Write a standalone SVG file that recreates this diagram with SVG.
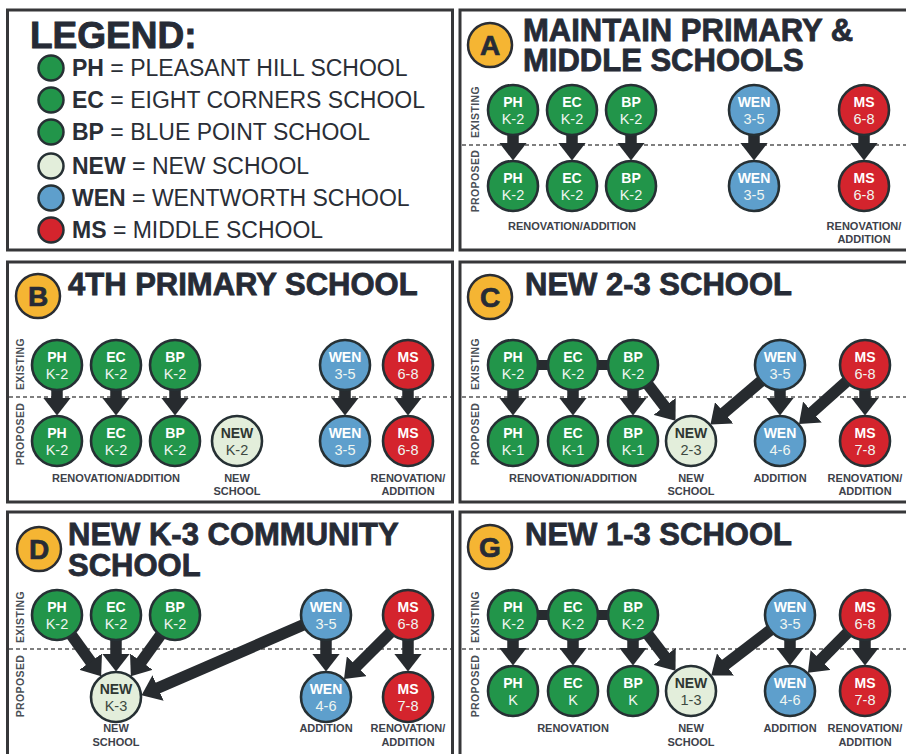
<svg xmlns="http://www.w3.org/2000/svg" width="906" height="754" viewBox="0 0 906 754">
<defs>
<marker id="ah" markerUnits="userSpaceOnUse" markerWidth="18" markerHeight="28" viewBox="0 0 18 28" refX="1.5" refY="14" orient="auto"><path d="M0,0 L18,14 L0,28 z" fill="#272b2f"/></marker>
<style>
text{font-family:"Liberation Sans",Arial,sans-serif}
.panel{fill:#fff;stroke:#363739;stroke-width:3}
.title{font-weight:bold;font-size:31px;fill:#262b36;stroke:#262b36;stroke-width:0.8}
.badge circle{fill:#f5b533;stroke:#2a2d33;stroke-width:2.5}
.badge text{font-weight:bold;font-size:28px;fill:#262b36;text-anchor:middle;stroke:#262b36;stroke-width:0.7}
.node circle{stroke:#263034;stroke-width:2.6}
.g circle{fill:#22954a}.b circle{fill:#5e9fcc}.r circle{fill:#d4242d}.n circle{fill:#e3eedb}
.node text{text-anchor:middle}
.t1{font-weight:bold;font-size:14px;fill:#fff}
.t2{font-size:14.5px;fill:#f0f6f1}
.n .t1{fill:#2e3732}.n .t2{fill:#3c4840}
.lbl{font-weight:bold;font-size:11px;fill:#3d424a;text-anchor:middle}
.side{font-weight:bold;font-size:10.5px;fill:#4a4f56;text-anchor:middle;letter-spacing:0.4px}
.dash{stroke:#555;stroke-width:1.3;stroke-dasharray:4 3}
.conn line{stroke:#272b2f;stroke-width:11.5;marker-end:url(#ah)}
.conn line.bar{marker-end:none;stroke-width:10}
.leg{font-size:23px;fill:#2a2e36}
.legc{stroke:#263034;stroke-width:2.5}
</style>
</defs>

<!-- Panels -->
<g id="panels">
<rect class="panel" x="7.5" y="10" width="445" height="240"/>
<rect class="panel" x="460" y="10" width="448" height="240"/>
<rect class="panel" x="7.5" y="262" width="445" height="240"/>
<rect class="panel" x="460" y="262" width="448" height="240"/>
<rect class="panel" x="7.5" y="512" width="445" height="250"/>
<rect class="panel" x="460" y="512" width="448" height="250"/>
</g>

<!-- Legend -->
<g id="legend">
<text x="30" y="48" style="font-weight:bold;font-size:37px;fill:#262b36;stroke:#262b36;stroke-width:0.9">LEGEND:</text>
<circle class="legc" cx="51" cy="68" r="12.5" fill="#22954a"/>
<text class="leg" x="72" y="76"><tspan font-weight="bold">PH</tspan> = PLEASANT HILL SCHOOL</text>
<circle class="legc" cx="51" cy="100" r="12.5" fill="#22954a"/>
<text class="leg" x="72" y="108"><tspan font-weight="bold">EC</tspan> = EIGHT CORNERS SCHOOL</text>
<circle class="legc" cx="51" cy="132" r="12.5" fill="#22954a"/>
<text class="leg" x="72" y="140"><tspan font-weight="bold">BP</tspan> = BLUE POINT SCHOOL</text>
<circle class="legc" cx="51" cy="166" r="12.5" fill="#e3eedb"/>
<text class="leg" x="72" y="174"><tspan font-weight="bold">NEW</tspan> = NEW SCHOOL</text>
<circle class="legc" cx="51" cy="198" r="12.5" fill="#5e9fcc"/>
<text class="leg" x="72" y="206"><tspan font-weight="bold">WEN</tspan> = WENTWORTH SCHOOL</text>
<circle class="legc" cx="51" cy="230" r="12.5" fill="#d4242d"/>
<text class="leg" x="72" y="238"><tspan font-weight="bold">MS</tspan> = MIDDLE SCHOOL</text>
</g>

<!-- Headings, dividers, side labels -->
<g id="headings">
<g class="badge"><circle cx="490" cy="45" r="22"/><text x="490" y="55">A</text></g>
<text class="title" x="523" y="41">MAINTAIN PRIMARY &amp;</text>
<text class="title" x="523" y="71">MIDDLE SCHOOLS</text>
<g class="badge"><circle cx="38" cy="296" r="22"/><text x="38" y="306">B</text></g>
<text class="title" x="68" y="295">4TH PRIMARY SCHOOL</text>
<g class="badge"><circle cx="490" cy="297" r="22"/><text x="490" y="307">C</text></g>
<text class="title" x="525" y="295">NEW 2-3 SCHOOL</text>
<g class="badge"><circle cx="39" cy="549" r="22"/><text x="39" y="559">D</text></g>
<text class="title" x="68" y="545">NEW K-3 COMMUNITY</text>
<text class="title" x="68" y="576">SCHOOL</text>
<g class="badge"><circle cx="490" cy="547" r="22"/><text x="490" y="557">G</text></g>
<text class="title" x="525" y="545">NEW 1-3 SCHOOL</text>

<line class="dash" x1="462" y1="145" x2="906" y2="145"/>
<line class="dash" x1="9" y1="397" x2="451" y2="397"/>
<line class="dash" x1="462" y1="397" x2="906" y2="397"/>
<line class="dash" x1="9" y1="649" x2="451" y2="649"/>
<line class="dash" x1="462" y1="649" x2="906" y2="649"/>

<text class="side" transform="translate(479,112) rotate(-90)">EXISTING</text>
<text class="side" transform="translate(479,181) rotate(-90)">PROPOSED</text>
<text class="side" transform="translate(24,364) rotate(-90)">EXISTING</text>
<text class="side" transform="translate(24,434) rotate(-90)">PROPOSED</text>
<text class="side" transform="translate(479,364) rotate(-90)">EXISTING</text>
<text class="side" transform="translate(479,434) rotate(-90)">PROPOSED</text>
<text class="side" transform="translate(24,617) rotate(-90)">EXISTING</text>
<text class="side" transform="translate(24,686) rotate(-90)">PROPOSED</text>
<text class="side" transform="translate(479,617) rotate(-90)">EXISTING</text>
<text class="side" transform="translate(479,686) rotate(-90)">PROPOSED</text>
</g>

<!-- Connectors -->
<g id="connectors" class="conn">
<!-- A -->
<line x1="513" y1="110" x2="513" y2="144"/>
<line x1="572" y1="110" x2="572" y2="144"/>
<line x1="631" y1="110" x2="631" y2="144"/>
<line x1="754" y1="110" x2="754" y2="144"/>
<line x1="864" y1="110" x2="864" y2="144"/>
<!-- B -->
<line x1="57" y1="365" x2="57" y2="399"/>
<line x1="116" y1="365" x2="116" y2="399"/>
<line x1="175" y1="365" x2="175" y2="399"/>
<line x1="345" y1="365" x2="345" y2="399"/>
<line x1="408" y1="365" x2="408" y2="399"/>
<!-- C -->
<line class="bar" x1="513" y1="365" x2="633" y2="365"/>
<line x1="513" y1="365" x2="513" y2="399"/>
<line x1="573" y1="365" x2="573" y2="399"/>
<line x1="633" y1="365" x2="633" y2="399"/>
<line x1="633" y1="365" x2="665.5" y2="407.6"/>
<line x1="780" y1="365" x2="723" y2="413.7"/>
<line x1="780" y1="365" x2="780" y2="399"/>
<line x1="865" y1="365" x2="811.3" y2="413"/>
<line x1="865" y1="365" x2="865" y2="399"/>
<!-- D -->
<line x1="57" y1="615" x2="91.5" y2="662.9"/>
<line x1="116" y1="615" x2="116" y2="655"/>
<line x1="175" y1="615" x2="140.5" y2="662.9"/>
<line x1="326" y1="615" x2="156.7" y2="688.6"/>
<line x1="326" y1="615" x2="326" y2="655"/>
<line x1="408" y1="615" x2="355.7" y2="667.3"/>
<line x1="408" y1="615" x2="408" y2="655"/>
<!-- G -->
<line class="bar" x1="513" y1="615" x2="633" y2="615"/>
<line x1="513" y1="615" x2="513" y2="649"/>
<line x1="573" y1="615" x2="573" y2="649"/>
<line x1="633" y1="615" x2="633" y2="649"/>
<line x1="633" y1="615" x2="665.5" y2="657.6"/>
<line x1="790" y1="615" x2="724.3" y2="665.4"/>
<line x1="790" y1="615" x2="790" y2="649"/>
<line x1="865" y1="615" x2="819.5" y2="661.1"/>
<line x1="865" y1="615" x2="865" y2="649"/>
</g>

<!-- Nodes: Panel A -->
<g id="a-ph-e" class="node g"><circle cx="513" cy="110" r="25"/><text class="t1" x="513" y="107">PH</text><text class="t2" x="513" y="124">K-2</text></g>
<g id="a-ec-e" class="node g"><circle cx="572" cy="110" r="25"/><text class="t1" x="572" y="107">EC</text><text class="t2" x="572" y="124">K-2</text></g>
<g id="a-bp-e" class="node g"><circle cx="631" cy="110" r="25"/><text class="t1" x="631" y="107">BP</text><text class="t2" x="631" y="124">K-2</text></g>
<g id="a-wen-e" class="node b"><circle cx="754" cy="110" r="25"/><text class="t1" x="754" y="107">WEN</text><text class="t2" x="754" y="124">3-5</text></g>
<g id="a-ms-e" class="node r"><circle cx="864" cy="110" r="25"/><text class="t1" x="864" y="107">MS</text><text class="t2" x="864" y="124">6-8</text></g>
<g id="a-ph-p" class="node g"><circle cx="513" cy="186" r="25"/><text class="t1" x="513" y="183">PH</text><text class="t2" x="513" y="200">K-2</text></g>
<g id="a-ec-p" class="node g"><circle cx="572" cy="186" r="25"/><text class="t1" x="572" y="183">EC</text><text class="t2" x="572" y="200">K-2</text></g>
<g id="a-bp-p" class="node g"><circle cx="631" cy="186" r="25"/><text class="t1" x="631" y="183">BP</text><text class="t2" x="631" y="200">K-2</text></g>
<g id="a-wen-p" class="node b"><circle cx="754" cy="186" r="25"/><text class="t1" x="754" y="183">WEN</text><text class="t2" x="754" y="200">3-5</text></g>
<g id="a-ms-p" class="node r"><circle cx="864" cy="186" r="25"/><text class="t1" x="864" y="183">MS</text><text class="t2" x="864" y="200">6-8</text></g>
<g id="a-labels"><text class="lbl" x="572" y="230">RENOVATION/ADDITION</text><text class="lbl" x="864" y="230">RENOVATION/</text><text class="lbl" x="864" y="243">ADDITION</text></g>

<!-- Panel B -->
<g id="b-ph-e" class="node g"><circle cx="57" cy="365" r="25"/><text class="t1" x="57" y="362">PH</text><text class="t2" x="57" y="379">K-2</text></g>
<g id="b-ec-e" class="node g"><circle cx="116" cy="365" r="25"/><text class="t1" x="116" y="362">EC</text><text class="t2" x="116" y="379">K-2</text></g>
<g id="b-bp-e" class="node g"><circle cx="175" cy="365" r="25"/><text class="t1" x="175" y="362">BP</text><text class="t2" x="175" y="379">K-2</text></g>
<g id="b-wen-e" class="node b"><circle cx="345" cy="365" r="25"/><text class="t1" x="345" y="362">WEN</text><text class="t2" x="345" y="379">3-5</text></g>
<g id="b-ms-e" class="node r"><circle cx="408" cy="365" r="25"/><text class="t1" x="408" y="362">MS</text><text class="t2" x="408" y="379">6-8</text></g>
<g id="b-ph-p" class="node g"><circle cx="57" cy="441" r="25"/><text class="t1" x="57" y="438">PH</text><text class="t2" x="57" y="455">K-2</text></g>
<g id="b-ec-p" class="node g"><circle cx="116" cy="441" r="25"/><text class="t1" x="116" y="438">EC</text><text class="t2" x="116" y="455">K-2</text></g>
<g id="b-bp-p" class="node g"><circle cx="175" cy="441" r="25"/><text class="t1" x="175" y="438">BP</text><text class="t2" x="175" y="455">K-2</text></g>
<g id="b-new-p" class="node n"><circle cx="237" cy="441" r="25"/><text class="t1" x="237" y="438">NEW</text><text class="t2" x="237" y="455">K-2</text></g>
<g id="b-wen-p" class="node b"><circle cx="345" cy="441" r="25"/><text class="t1" x="345" y="438">WEN</text><text class="t2" x="345" y="455">3-5</text></g>
<g id="b-ms-p" class="node r"><circle cx="408" cy="441" r="25"/><text class="t1" x="408" y="438">MS</text><text class="t2" x="408" y="455">6-8</text></g>
<g id="b-labels"><text class="lbl" x="116" y="482">RENOVATION/ADDITION</text><text class="lbl" x="237" y="482">NEW</text><text class="lbl" x="237" y="495">SCHOOL</text><text class="lbl" x="408" y="482">RENOVATION/</text><text class="lbl" x="408" y="495">ADDITION</text></g>

<!-- Panel C -->
<g id="c-ph-e" class="node g"><circle cx="513" cy="365" r="25"/><text class="t1" x="513" y="362">PH</text><text class="t2" x="513" y="379">K-2</text></g>
<g id="c-ec-e" class="node g"><circle cx="573" cy="365" r="25"/><text class="t1" x="573" y="362">EC</text><text class="t2" x="573" y="379">K-2</text></g>
<g id="c-bp-e" class="node g"><circle cx="633" cy="365" r="25"/><text class="t1" x="633" y="362">BP</text><text class="t2" x="633" y="379">K-2</text></g>
<g id="c-wen-e" class="node b"><circle cx="780" cy="365" r="25"/><text class="t1" x="780" y="362">WEN</text><text class="t2" x="780" y="379">3-5</text></g>
<g id="c-ms-e" class="node r"><circle cx="865" cy="365" r="25"/><text class="t1" x="865" y="362">MS</text><text class="t2" x="865" y="379">6-8</text></g>
<g id="c-ph-p" class="node g"><circle cx="513" cy="441" r="25"/><text class="t1" x="513" y="438">PH</text><text class="t2" x="513" y="455">K-1</text></g>
<g id="c-ec-p" class="node g"><circle cx="573" cy="441" r="25"/><text class="t1" x="573" y="438">EC</text><text class="t2" x="573" y="455">K-1</text></g>
<g id="c-bp-p" class="node g"><circle cx="633" cy="441" r="25"/><text class="t1" x="633" y="438">BP</text><text class="t2" x="633" y="455">K-1</text></g>
<g id="c-new-p" class="node n"><circle cx="691" cy="441" r="25"/><text class="t1" x="691" y="438">NEW</text><text class="t2" x="691" y="455">2-3</text></g>
<g id="c-wen-p" class="node b"><circle cx="780" cy="441" r="25"/><text class="t1" x="780" y="438">WEN</text><text class="t2" x="780" y="455">4-6</text></g>
<g id="c-ms-p" class="node r"><circle cx="865" cy="441" r="25"/><text class="t1" x="865" y="438">MS</text><text class="t2" x="865" y="455">7-8</text></g>
<g id="c-labels"><text class="lbl" x="573" y="482">RENOVATION/ADDITION</text><text class="lbl" x="691" y="482">NEW</text><text class="lbl" x="691" y="495">SCHOOL</text><text class="lbl" x="780" y="482">ADDITION</text><text class="lbl" x="865" y="482">RENOVATION/</text><text class="lbl" x="865" y="495">ADDITION</text></g>

<!-- Panel D -->
<g id="d-ph-e" class="node g"><circle cx="57" cy="615" r="25"/><text class="t1" x="57" y="612">PH</text><text class="t2" x="57" y="629">K-2</text></g>
<g id="d-ec-e" class="node g"><circle cx="116" cy="615" r="25"/><text class="t1" x="116" y="612">EC</text><text class="t2" x="116" y="629">K-2</text></g>
<g id="d-bp-e" class="node g"><circle cx="175" cy="615" r="25"/><text class="t1" x="175" y="612">BP</text><text class="t2" x="175" y="629">K-2</text></g>
<g id="d-wen-e" class="node b"><circle cx="326" cy="615" r="25"/><text class="t1" x="326" y="612">WEN</text><text class="t2" x="326" y="629">3-5</text></g>
<g id="d-ms-e" class="node r"><circle cx="408" cy="615" r="25"/><text class="t1" x="408" y="612">MS</text><text class="t2" x="408" y="629">6-8</text></g>
<g id="d-new-p" class="node n"><circle cx="116" cy="697" r="25"/><text class="t1" x="116" y="694">NEW</text><text class="t2" x="116" y="711">K-3</text></g>
<g id="d-wen-p" class="node b"><circle cx="326" cy="697" r="25"/><text class="t1" x="326" y="694">WEN</text><text class="t2" x="326" y="711">4-6</text></g>
<g id="d-ms-p" class="node r"><circle cx="408" cy="697" r="25"/><text class="t1" x="408" y="694">MS</text><text class="t2" x="408" y="711">7-8</text></g>
<g id="d-labels"><text class="lbl" x="116" y="732">NEW</text><text class="lbl" x="116" y="746">SCHOOL</text><text class="lbl" x="326" y="732">ADDITION</text><text class="lbl" x="408" y="732">RENOVATION/</text><text class="lbl" x="408" y="746">ADDITION</text></g>

<!-- Panel G -->
<g id="g-ph-e" class="node g"><circle cx="513" cy="615" r="25"/><text class="t1" x="513" y="612">PH</text><text class="t2" x="513" y="629">K-2</text></g>
<g id="g-ec-e" class="node g"><circle cx="573" cy="615" r="25"/><text class="t1" x="573" y="612">EC</text><text class="t2" x="573" y="629">K-2</text></g>
<g id="g-bp-e" class="node g"><circle cx="633" cy="615" r="25"/><text class="t1" x="633" y="612">BP</text><text class="t2" x="633" y="629">K-2</text></g>
<g id="g-wen-e" class="node b"><circle cx="790" cy="615" r="25"/><text class="t1" x="790" y="612">WEN</text><text class="t2" x="790" y="629">3-5</text></g>
<g id="g-ms-e" class="node r"><circle cx="865" cy="615" r="25"/><text class="t1" x="865" y="612">MS</text><text class="t2" x="865" y="629">6-8</text></g>
<g id="g-ph-p" class="node g"><circle cx="513" cy="691" r="25"/><text class="t1" x="513" y="688">PH</text><text class="t2" x="513" y="705">K</text></g>
<g id="g-ec-p" class="node g"><circle cx="573" cy="691" r="25"/><text class="t1" x="573" y="688">EC</text><text class="t2" x="573" y="705">K</text></g>
<g id="g-bp-p" class="node g"><circle cx="633" cy="691" r="25"/><text class="t1" x="633" y="688">BP</text><text class="t2" x="633" y="705">K</text></g>
<g id="g-new-p" class="node n"><circle cx="691" cy="691" r="25"/><text class="t1" x="691" y="688">NEW</text><text class="t2" x="691" y="705">1-3</text></g>
<g id="g-wen-p" class="node b"><circle cx="790" cy="691" r="25"/><text class="t1" x="790" y="688">WEN</text><text class="t2" x="790" y="705">4-6</text></g>
<g id="g-ms-p" class="node r"><circle cx="865" cy="691" r="25"/><text class="t1" x="865" y="688">MS</text><text class="t2" x="865" y="705">7-8</text></g>
<g id="g-labels"><text class="lbl" x="573" y="732">RENOVATION</text><text class="lbl" x="691" y="732">NEW</text><text class="lbl" x="691" y="746">SCHOOL</text><text class="lbl" x="790" y="732">ADDITION</text><text class="lbl" x="865" y="732">RENOVATION/</text><text class="lbl" x="865" y="746">ADDITION</text></g>
</svg>
